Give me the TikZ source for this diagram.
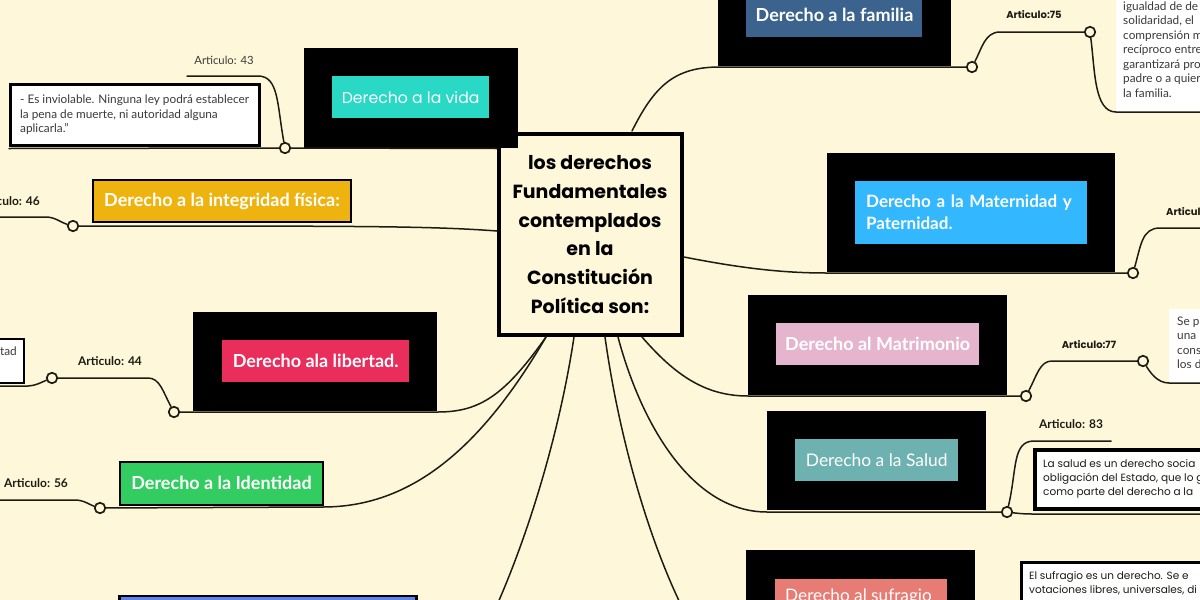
\documentclass[tikz,border=0pt]{standalone}
\usepackage{fontspec}
\setmainfont{Lato}
\newfontfamily\hand{Poppins}
\definecolor{bgc}{HTML}{FFF7D9}
\definecolor{ink}{HTML}{1C1C14}
\definecolor{txtg}{HTML}{3A3A3A}
\definecolor{cvida}{HTML}{29D9C5}
\definecolor{cfam}{HTML}{3B638E}
\definecolor{cmat}{HTML}{33B8FF}
\definecolor{cmatri}{HTML}{E5B5CE}
\definecolor{csal}{HTML}{6DB1B1}
\definecolor{csuf}{HTML}{E67C73}
\definecolor{clib}{HTML}{E92E5B}
\definecolor{cide}{HTML}{33CC60}
\definecolor{cint}{HTML}{EEB30F}
\definecolor{cblue}{HTML}{5B85EE}
\tikzset{
 sz/.style 2 args={minimum width=#1pt,minimum height=#2pt},
 link/.style={draw=ink,line width=1.5pt,line cap=round},
 dotc/.style={circle,draw=ink,line width=1.7pt,fill=bgc,minimum size=10.5pt,inner sep=0pt},
 blackbox/.style={fill=black,draw=none,inner sep=0pt,anchor=north west},
 topic/.style={inner sep=0pt,text=white,anchor=north west,align=center,font=\fontsize{18}{22}\selectfont\bfseries},
 lab/.style={inner sep=0pt,text=txtg,font=\fontsize{11.3}{14}\selectfont},
 labb/.style={inner sep=0pt,text=ink,font=\fontsize{12}{14}\selectfont\bfseries},
 labh/.style={inner sep=0pt,text=ink,font=\hand\fontsize{10}{14}\selectfont\bfseries},
 notebox/.style={fill=white,draw=none,inner sep=0pt,anchor=north west},
 note/.style={anchor=north west,inner sep=0pt,align=left,text=txtg,font=\fontsize{11.8}{14.45}\selectfont},
 noteh/.style={anchor=north west,inner sep=0pt,align=left,text=ink,font=\hand\fontsize{10.5}{14.2}\selectfont},
}
\begin{document}
\begin{tikzpicture}[x=1pt,y=-1pt]
\useasboundingbox (0,0) rectangle (1200,600);
\fill[bgc] (0,0) rectangle (1200,600);
% central node
\node[draw=black,line width=4pt,fill=bgc,inner sep=0pt,sz={183}{201},align=center,
 font=\hand\fontsize{19}{28.7}\selectfont\bfseries,text=black] (c) at (590,234.5)
 {los derechos\\Fundamentales\\contemplados\\en la\\Constitución\\Política son:};
% black backing boxes
\node[blackbox,sz={214}{100}] (bvida) at (304,48) {};
\node[blackbox,sz={233}{76}] (bfam) at (718,-10) {};
\node[blackbox,sz={288}{119}] (bmat) at (827,153) {};
\node[blackbox,sz={259}{100}] (bmatri) at (748,295) {};
\node[blackbox,sz={219}{99}] (bsal) at (767,411) {};
\node[blackbox,sz={229}{80}] (bsuf) at (746,550) {};
\node[blackbox,sz={244}{99}] (blib) at (193,312) {};
% white note boxes (behind connectors)
\node[notebox,sz={90}{122}] (n75) at (1116,-10) {};
\node[notebox,sz={40}{74}] (n77) at (1169,309) {};
% connection points
\coordinate (cw1) at (497,148.5);
\coordinate (cw2) at (497,231);
\coordinate (cs1) at (546,337);
\coordinate (cs2) at (574,337);
\coordinate (cs3) at (605,337);
\coordinate (cs4) at (618,337);
\coordinate (cs5) at (642,337);
\coordinate (cn1) at (632,131);
\coordinate (ce1) at (684,257);
\coordinate (e43) at (187,76);
\coordinate (e43n) at (9,148.5);
\coordinate (e46) at (-5,217);
\coordinate (e44) at (-5,386);
\coordinate (e56) at (-5,500);
\coordinate (e75) at (1205,112);
\coordinate (e77) at (1205,383);
\coordinate (e83) at (1111,441);
\coordinate (e83n) at (1205,514);
\coordinate (emat) at (1205,228);
\coordinate (eblue) at (497,605);
\coordinate (eb2) at (681,605);
% dots
\node[dotc] (d43) at (285,148) {};
\node[dotc] (d46) at (73,226) {};
\node[dotc] (d44) at (174,412) {};
\node[dotc] (d44b) at (52,378) {};
\node[dotc] (d56) at (100,508) {};
\node[dotc] (d75) at (972,67) {};
\node[dotc] (d75b) at (1090,32) {};
\node[dotc] (dmat) at (1133,273) {};
\node[dotc] (d77) at (1026,396) {};
\node[dotc] (d77b) at (1143,361) {};
\node[dotc] (d83) at (1007,512) {};
% connectors
\draw[link] (cw1) -- (d43) -- (e43n);
\draw[link] (d43) .. controls (277,105) and (279,76) .. (258,76) -- (e43);
\draw[link] (cw2) .. controls (430,226) and (360,226) .. (d46);
\draw[link] (d46) .. controls (62,223) and (55,217) .. (46,217) -- (e46);
\draw[link] (cs1) .. controls (505,395) and (480,412) .. (438,412) -- (d44);
\draw[link] (d44) .. controls (163,392) and (160,378) .. (148,378) -- (d44b);
\draw[link] (d44b) .. controls (42,382) and (35,386) .. (28,386) -- (e44);
\draw[link] (cs1) .. controls (480,450) and (410,507) .. (323,507) -- (d56);
\draw[link] (d56) .. controls (90,505) and (84,500) .. (75,500) -- (e56);
\draw[link] (cs2) .. controls (560,430) and (530,530) .. (eblue);
\draw[link] (cs3) .. controls (618,430) and (645,530) .. (eb2);
\draw[link] (cs4) .. controls (640,420) and (690,512) .. (767,512) -- (d83);
\draw[link] (cs5) .. controls (675,375) and (705,396) .. (748,396) -- (d77);
\draw[link] (cn1) .. controls (655,85) and (675,67) .. (720,67) -- (d75);
\draw[link] (d75) .. controls (982,48) and (985,32) .. (1000,32) -- (d75b);
\draw[link] (d75b) .. controls (1095,70) and (1094,112) .. (1116,112) -- (e75);
\draw[link] (ce1) .. controls (750,270) and (790,273) .. (827,273) -- (dmat);
\draw[link] (dmat) .. controls (1141,245) and (1142,228) .. (1160,228) -- (emat);
\draw[link] (d77) .. controls (1037,375) and (1040,361) .. (1052,361) -- (d77b);
\draw[link] (d77b) .. controls (1150,372) and (1157,383) .. (1169,383) -- (e77);
\draw[link] (d83) .. controls (1017,470) and (1012,441) .. (1034,441) -- (e83);
\draw[link] (d83) .. controls (1015,513) and (1022,514) .. (1032,514) -- (e83n);
% framed notes
\node[notebox,draw=black,line width=3pt,sz={249}{61}] (n43) at (9,83) {};
\node[notebox,draw=black,line width=2pt,sz={38}{44}] (n44) at (-15,338) {};
\node[notebox,draw=black,line width=4pt,sz={190}{59}] (n83) at (1033,448) {};
\node[notebox,draw=black,line width=3pt,sz={200}{60}] (nsuf) at (1020,561) {};
% topics
\node[topic,fill=cvida,sz={157}{42},font=\hand\fontsize{15.7}{18}\selectfont] (tvida) at (332,76) {Derecho a la vida};
\node[topic,fill=cfam,sz={176}{47}] (tfam) at (746,-10) {};
\node[inner sep=0pt,text=white,font=\fontsize{18}{22}\selectfont\bfseries] (lfam) at (834.5,15) {Derecho a la familia};
\node[topic,fill=cmat,sz={232}{63},align=left,text width=210pt,font=\fontsize{17}{22}\selectfont\bfseries] (tmat) at (855,181) {\mbox{Derecho a la Maternidad y}\\Paternidad.};
\node[topic,fill=cmatri,sz={203}{42}] (tmatri) at (776,323) {Derecho al Matrimonio};
\node[topic,fill=csal,sz={163}{42},font=\fontsize{17.4}{20}\selectfont] (tsal) at (795,439) {Derecho a la Salud};
\node[topic,fill=csuf,sz={172}{50}] (tsuf) at (775,579) {};
\node[inner sep=0pt,text=white,font=\fontsize{17.2}{20}\selectfont] (lsuf) at (858.5,597) {Derecho al sufragio};
\node[topic,fill=clib,sz={187}{42}] (tlib) at (222,340) {Derecho ala libertad.};
\node[topic,draw=black,line width=2pt,fill=cide,sz={203}{43}] (tide) at (119,460.5) {Derecho a la Identidad};
\node[topic,draw=black,line width=2pt,fill=cint,sz={258}{42}] (tint) at (92,179) {Derecho a la integridad física:};
\node[topic,draw=black,line width=2.5pt,fill=cblue,sz={297}{30}] (tblue) at (118,594.5) {};
% labels
\node[lab] (l43) at (224,60) {Articulo: 43};
\node[labb,anchor=east] (l46) at (40,201) {Articulo: 46};
\node[labb] (l44) at (110,361) {Articulo: 44};
\node[labb] (l56) at (36,483) {Articulo: 56};
\node[labh] (l75) at (1034,15) {Articulo:75};
\node[labh,anchor=west] (lmat) at (1166,212) {Articul};
\node[labh] (l77) at (1089,345) {Articulo:77};
\node[labb] (l83) at (1071,424) {Articulo: 83};
% note texts
\node[note] (t43) at (20,95) {- Es inviolable. Ninguna ley podrá establecer\\la pena de muerte, ni autoridad alguna\\aplicarla.”};
\node[note,anchor=north east] (t44) at (17,347) {rtad};
\node[note] (t75) at (1123,1.5) {igualdad de de\\solidaridad, el\\comprensión m\\recíproco entre\\garantizará pro\\padre o a quier\\la familia.};
\node[note] (t77) at (1177,316.5) {Se p\\una r\\cons\\los d};
\node[noteh] (t83) at (1043,459) {La salud es un derecho socia\\obligación del Estado, que lo g\\como parte del derecho a la};
\node[noteh] (tsf) at (1029,571) {El sufragio es un derecho. Se e\\votaciones libres, universales, di};
\end{tikzpicture}
\end{document}
